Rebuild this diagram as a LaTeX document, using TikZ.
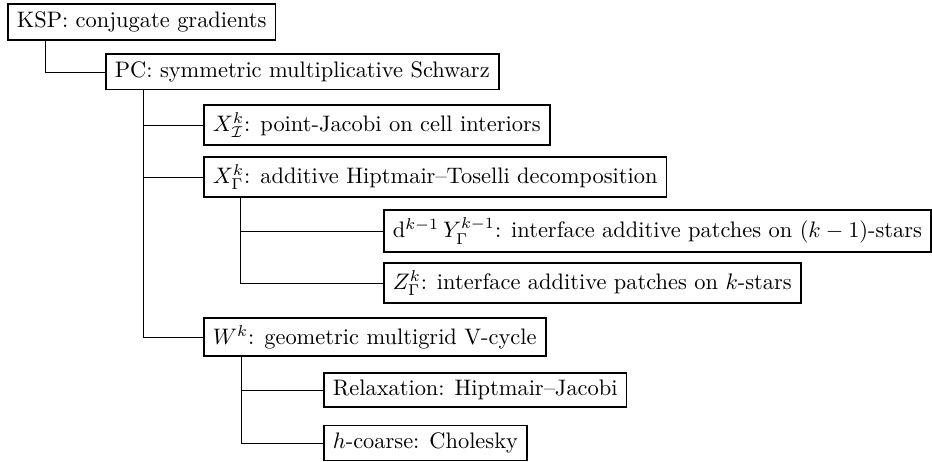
\documentclass[tikz,border=0pt]{standalone}
\usetikzlibrary{calc}
\begin{document}
\begin{tikzpicture}[x=0.446pt, y=-0.446pt,
  box/.style={draw, line width=0.8pt, anchor=west, inner xsep=4pt, inner ysep=3.3pt, font=\fontsize{10}{12}\selectfont},
  link/.style={draw, line width=0.4pt}]
\useasboundingbox (0,0) rectangle (932,462);
\node[box] (ksp) at (7,22) {KSP: conjugate gradients};
\node[box] (pc) at (105,72) {PC: symmetric multiplicative Schwarz};
\node[box] (xi) at (203,125) {$X^k_{\mathcal{I}}$: point-Jacobi on cell interiors};
\node[box] (xg) at (203,177) {$X^k_\Gamma$: additive Hiptmair--Toselli decomposition};
\node[box] (dy) at (383,231) {$\mathrm{d}^{k-1}\,Y^{k-1}_\Gamma$: interface additive patches on $(k-1)$-stars};
\node[box] (z) at (383,283) {$Z^k_\Gamma$: interface additive patches on $k$-stars};
\node[box] (w) at (203,337) {$W^k$: geometric multigrid V-cycle};
\node[box] (rx) at (323,390) {Relaxation: Hiptmair--Jacobi};
\node[box] (hc) at (323,443) {$h$-coarse: Cholesky};
\draw[link] ($(ksp.south west)+(38,0)$) |- (pc.west);
\draw[link] ($(pc.south west)+(38,0)$) |- (xi.west);
\draw[link] ($(pc.south west)+(38,0)$) |- (xg.west);
\draw[link] ($(pc.south west)+(38,0)$) |- (w.west);
\draw[link] ($(xg.south west)+(37,0)$) |- (dy.west);
\draw[link] ($(xg.south west)+(37,0)$) |- (z.west);
\draw[link] ($(w.south west)+(38,0)$) |- (rx.west);
\draw[link] ($(w.south west)+(38,0)$) |- (hc.west);
\end{tikzpicture}
\end{document}
